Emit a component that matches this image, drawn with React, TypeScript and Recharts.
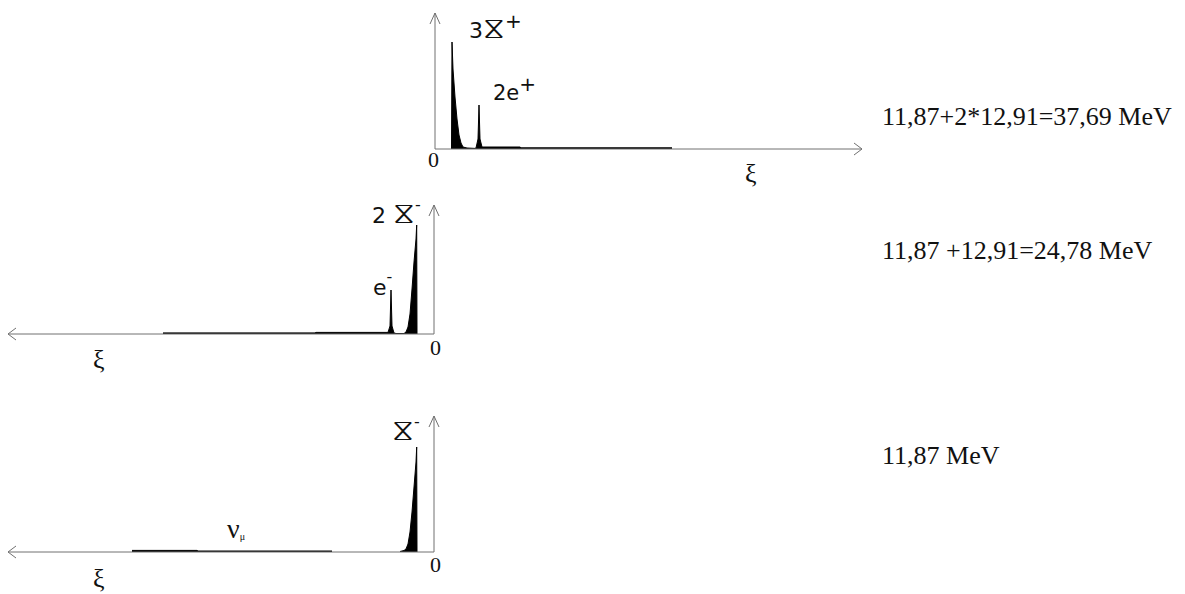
import { AreaChart, Area, XAxis, YAxis, ReferenceLine, ReferenceDot } from "recharts";

// ξ measured from the vertical axis (px-like units), v = peak height
const xiTop = [16.5, 17, 18, 20, 22, 24, 26, 28, 32, 40, 41, 43, 44, 45, 47, 50, 85, 86, 237];
const vTop = [0, 107, 80, 52, 30, 14, 6, 2, 1, 0.6, 1, 10, 44, 10, 2, 2, 2, 1.2, 1.2];

const xiMid = [17, 17.3, 18, 20, 22, 24, 26, 28, 30, 38, 40, 42, 43, 44, 46, 50, 118, 119, 271];
const vMid = [0, 109, 95, 72, 45, 20, 7, 2, 0.5, 0.5, 1, 8, 44, 8, 1.6, 1.6, 1.6, 1.1, 1.1];

const xiBot = [17, 17.3, 18, 20, 22, 24, 26, 28, 30, 34, 60, 102, 236, 237, 302];
const vBot: (number | null)[] = [0, 105, 90, 65, 40, 20, 8, 3, 1.5, 0.5, null, 1, 1, 1.6, 1.6];

const sums = ["11,87+2*12,91=37,69 MeV", "11,87 +12,91=24,78 MeV", "11,87 MeV"];

const toRows = (xs: number[], vs: (number | null)[]) => xs.map((xi, i) => ({ xi, v: vs[i] }));

const AXIS = "#707070";
const SANS = "'DejaVu Sans', Verdana, sans-serif";
const SERIF = "'Liberation Serif', 'Times New Roman', serif";
const M = { top: 10, right: 10, bottom: 45, left: 10 };

type Part = { t: string; size?: number; dy?: number };
type TagProps = { viewBox?: { x: number; y: number }; parts: Part[]; size: number; font: string };

function Tag({ viewBox, parts, size, font }: TagProps) {
  if (!viewBox) return null;
  return (
    <text x={viewBox.x} y={viewBox.y} fontFamily={font} fontSize={size} fill="#111">
      {parts.map((p, i) => (
        <tspan key={i} fontSize={p.size ?? size} dy={p.dy ?? 0}>
          {p.t}
        </tspan>
      ))}
    </text>
  );
}

function axes(xMax: number, yMax: number) {
  const segs = [
    [{ x: 0, y: 0 }, { x: xMax, y: 0 }],
    [{ x: xMax, y: 0 }, { x: xMax - 8, y: 6 }],
    [{ x: xMax, y: 0 }, { x: xMax - 8, y: -6 }],
    [{ x: 0, y: 0 }, { x: 0, y: yMax }],
    [{ x: 0, y: yMax }, { x: -5, y: yMax - 11 }],
    [{ x: 0, y: yMax }, { x: 5, y: yMax - 11 }],
  ];
  return segs.map((s, i) => (
    <ReferenceLine key={"ax" + i} segment={s} stroke={AXIS} strokeWidth={1} ifOverflow="visible" />
  ));
}

function label(key: string, x: number, y: number, tag: TagProps) {
  return <ReferenceDot key={key} x={x} y={y} r={0} fill="none" stroke="none" ifOverflow="visible" label={<Tag {...tag} />} />;
}

const HG = 31; // hourglass glyph size

export default function App() {
  const xMax = 427;
  const top = toRows(xiTop, vTop);
  const mid = toRows(xiMid, vMid);
  const bot = toRows(xiBot, vBot);

  return (
    <div style={{ position: "absolute", left: 0, top: 0, width: 1185, height: 594, background: "#fff", overflow: "hidden" }}>
      {/* upper spectrum, ξ to the right */}
      <div style={{ position: "absolute", left: 435 - M.left, top: 13 - M.top }}>
        <AreaChart width={xMax + M.left + M.right} height={136 + M.top + M.bottom} data={top} margin={M}>
          <XAxis type="number" dataKey="xi" domain={[0, xMax]} allowDataOverflow hide />
          <YAxis type="number" domain={[0, 136]} allowDataOverflow hide />
          {axes(xMax, 136)}
          <Area type="linear" dataKey="v" stroke="#000" strokeWidth={1} fill="#000" fillOpacity={1} dot={false} activeDot={false} isAnimationActive={false} />
          {label("l1", 34, 111, { parts: [{ t: "3" }, { t: "⧖", size: HG }, { t: "+", size: 20, dy: -10 }], size: 22, font: SANS })}
          {label("l2", 58, 49, { parts: [{ t: "2e" }, { t: "+", size: 20, dy: -9 }], size: 21, font: SANS })}
          {label("l3", -7, -18, { parts: [{ t: "0" }], size: 22, font: SERIF })}
          {label("l4", 310, -33, { parts: [{ t: "ξ" }], size: 26, font: SERIF })}
        </AreaChart>
      </div>

      {/* middle spectrum, ξ to the left */}
      <div style={{ position: "absolute", left: 8 - M.left, top: 205 - M.top }}>
        <AreaChart width={426 + M.left + M.right} height={129 + M.top + M.bottom} data={mid} margin={M}>
          <XAxis type="number" dataKey="xi" domain={[0, 426]} reversed allowDataOverflow hide />
          <YAxis type="number" domain={[0, 129]} allowDataOverflow hide />
          {axes(426, 129)}
          <Area type="linear" dataKey="v" stroke="#000" strokeWidth={1} fill="#000" fillOpacity={1} dot={false} activeDot={false} isAnimationActive={false} />
          {label("m1", 62, 111, { parts: [{ t: "2 " }, { t: "⧖", size: HG }, { t: "-", size: 16, dy: -13 }], size: 22, font: SANS })}
          {label("m2", 61, 39, { parts: [{ t: "e" }, { t: "-", size: 16, dy: -13 }], size: 22, font: SANS })}
          {label("m3", 4, -21, { parts: [{ t: "0" }], size: 22, font: SERIF })}
          {label("m4", 341, -34, { parts: [{ t: "ξ" }], size: 26, font: SERIF })}
        </AreaChart>
      </div>

      {/* lower spectrum, ξ to the left */}
      <div style={{ position: "absolute", left: 8 - M.left, top: 416 - M.top }}>
        <AreaChart width={426 + M.left + M.right} height={136 + M.top + M.bottom} data={bot} margin={M}>
          <XAxis type="number" dataKey="xi" domain={[0, 426]} reversed allowDataOverflow hide />
          <YAxis type="number" domain={[0, 136]} allowDataOverflow hide />
          {axes(426, 136)}
          <Area type="linear" dataKey="v" stroke="#000" strokeWidth={1} fill="#000" fillOpacity={1} dot={false} activeDot={false} isAnimationActive={false} />
          {label("b1", 42, 112, { parts: [{ t: "⧖", size: HG }, { t: "-", size: 16, dy: -13 }], size: 22, font: SANS })}
          {label("b2", 207, 14, { parts: [{ t: "ν" }, { t: "μ", size: 10, dy: 2 }], size: 28, font: SERIF })}
          {label("b3", 4, -20, { parts: [{ t: "0" }], size: 22, font: SERIF })}
          {label("b4", 341, -35, { parts: [{ t: "ξ" }], size: 26, font: SERIF })}
        </AreaChart>
      </div>

      <svg width={1185} height={594} style={{ position: "absolute", left: 0, top: 0, pointerEvents: "none" }}>
        {sums.map((s, i) => (
          <text key={s} x={882} y={[125, 259, 464][i]} fontFamily={SERIF} fontSize={26} fill="#111">
            {s}
          </text>
        ))}
      </svg>
    </div>
  );
}
